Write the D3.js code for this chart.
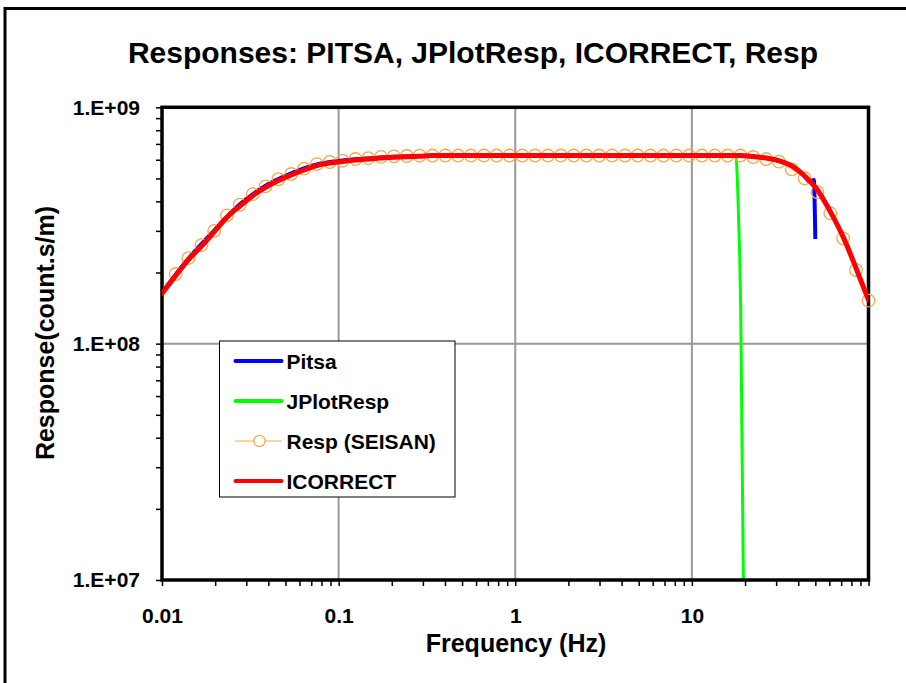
<!DOCTYPE html>
<html>
<head>
<meta charset="utf-8">
<script src="https://cdn.jsdelivr.net/npm/d3@7"></script>
<style>
  body { margin: 0; background: #fff; }
  svg { display: block; font-family: "Liberation Sans", Arial, sans-serif; font-weight: bold; }
</style>
</head>
<body>
<div id="chart"></div>
<script>
// frequencies (Hz) of the Resp (SEISAN) samples, first entry = left edge of ICORRECT
const freqs = [0.01, 0.01196, 0.01413, 0.01671, 0.01975, 0.02335, 0.0276, 0.03263, 0.03857, 0.0456,
  0.0539, 0.06372, 0.07533, 0.08905, 0.1053, 0.1245, 0.1471, 0.1739, 0.2056, 0.243,
  0.2873, 0.3396, 0.4015, 0.4746, 0.561, 0.6632, 0.784, 0.9268, 1.096, 1.295,
  1.531, 1.81, 2.14, 2.529, 2.99, 3.535, 4.179, 4.94, 5.84, 6.903,
  8.161, 9.647, 11.4, 13.48, 15.94, 18.84, 22.27, 26.33, 31.12, 36.79,
  43.49, 51.41, 60.78, 71.85, 84.94, 100];

const seisan = [null, 1.97e8, 2.30e8, 2.61e8, 3.00e8, 3.49e8, 3.87e8, 4.29e8, 4.63e8, 4.96e8,
  5.22e8, 5.50e8, 5.75e8, 5.87e8, 5.94e8, 6.04e8, 6.09e8, 6.17e8, 6.20e8, 6.22e8,
  6.24e8, 6.25e8, 6.25e8, 6.25e8, 6.25e8, 6.25e8, 6.25e8, 6.25e8, 6.25e8, 6.25e8,
  6.25e8, 6.25e8, 6.25e8, 6.25e8, 6.25e8, 6.25e8, 6.25e8, 6.25e8, 6.25e8, 6.25e8,
  6.25e8, 6.25e8, 6.25e8, 6.25e8, 6.25e8, 6.25e8, 6.16e8, 6.04e8, 5.89e8, 5.47e8,
  5.01e8, 4.37e8, 3.56e8, 2.79e8, 2.05e8, 1.52e8];

const icorrect = [1.63e8, 1.94e8, 2.27e8, 2.58e8, 2.97e8, 3.43e8, 3.82e8, 4.23e8, 4.58e8, 4.90e8,
  5.17e8, 5.43e8, 5.67e8, 5.81e8, 5.90e8, 5.98e8, 6.04e8, 6.10e8, 6.14e8, 6.18e8,
  6.21e8, 6.25e8, 6.25e8, 6.25e8, 6.25e8, 6.25e8, 6.25e8, 6.25e8, 6.25e8, 6.25e8,
  6.25e8, 6.25e8, 6.25e8, 6.25e8, 6.25e8, 6.25e8, 6.25e8, 6.25e8, 6.25e8, 6.25e8,
  6.25e8, 6.25e8, 6.25e8, 6.25e8, 6.25e8, 6.25e8, 6.19e8, 6.10e8, 5.94e8, 5.65e8,
  5.12e8, 4.47e8, 3.62e8, 2.83e8, 2.09e8, 1.53e8];

const pitsaFreq = [0.01, 0.01413, 0.01975, 0.0276, 0.03857, 0.0539, 0.07533, 0.1053, 0.1471, 0.2056,
  0.2873, 0.4746, 1.096, 4.94, 15.94, 22.27, 26.33, 31.12, 36.79, 43.49, 46.5, 49.0, 50.0];
const pitsa = [1.64e8, 2.29e8, 3.01e8, 3.89e8, 4.66e8, 5.26e8, 5.73e8, 5.95e8, 6.08e8, 6.17e8,
  6.22e8, 6.25e8, 6.25e8, 6.25e8, 6.25e8, 6.19e8, 6.10e8, 5.94e8, 5.65e8, 5.12e8, 4.85e8, 4.92e8, 2.77e8];

const jplotFreq = [0.01, 0.01413, 0.01975, 0.0276, 0.03857, 0.0539, 0.07533, 0.1053, 0.1471, 0.2056,
  0.2873, 0.4746, 1.096, 4.94, 15.94, 17.3, 17.8, 18.18, 18.42, 18.66, 18.9, 19.57];
const jplot = [1.63e8, 2.27e8, 2.97e8, 3.82e8, 4.58e8, 5.17e8, 5.67e8, 5.90e8, 6.04e8, 6.14e8,
  6.21e8, 6.25e8, 6.25e8, 6.25e8, 6.25e8, 6.22e8, 6.08e8, 4.47e8, 3.23e8, 2.33e8, 1.43e8, 1.0e7];

const xLabels = {0.01: '0.01', 0.1: '0.1', 1: '1', 10: '10'};
const yLabels = {1e7: '1.E+07', 1e8: '1.E+08', 1e9: '1.E+09'};

const width = 906;
const height = 683;
const plot = {left: 162, right: 868.5, top: 107.3, bottom: 580};

const svg = d3.select('#chart').append('svg')
  .attr('width', width)
  .attr('height', height);

// outer chart frame (runs off the right and bottom of the picture)
svg.append('rect')
  .attr('x', 5).attr('y', 8.5)
  .attr('width', 1000).attr('height', 1000)
  .attr('fill', 'none')
  .attr('stroke', '#000')
  .attr('stroke-width', 3);

const x = d3.scaleLog().domain([0.01, 100]).range([plot.left, plot.right]);
const y = d3.scaleLog().domain([1e7, 1e9]).range([plot.bottom, plot.top]);

svg.append('defs').append('clipPath').attr('id', 'clip')
  .append('rect')
  .attr('x', plot.left).attr('y', plot.top)
  .attr('width', plot.right - plot.left).attr('height', plot.bottom - plot.top);

// gridlines
svg.append('g').selectAll('line')
  .data([0.1, 1, 10])
  .enter().append('line')
  .attr('x1', d => x(d)).attr('x2', d => x(d))
  .attr('y1', plot.top).attr('y2', plot.bottom)
  .attr('stroke', '#999').attr('stroke-width', 2);
svg.append('g').selectAll('line')
  .data([1e8])
  .enter().append('line')
  .attr('x1', plot.left).attr('x2', plot.right)
  .attr('y1', d => y(d)).attr('y2', d => y(d))
  .attr('stroke', '#999').attr('stroke-width', 2);

// axes
const xAxis = svg.append('g')
  .attr('transform', `translate(0,${plot.bottom})`)
  .call(d3.axisBottom(x).tickValues(x.ticks()).tickSize(6).tickPadding(22)
    .tickFormat(d => xLabels[d] || ''));
const yAxis = svg.append('g')
  .attr('transform', `translate(${plot.left},0)`)
  .call(d3.axisLeft(y).tickValues(y.ticks()).tickSize(6).tickPadding(16)
    .tickFormat(d => yLabels[d] || ''));
[xAxis, yAxis].forEach(a => {
  a.select('.domain').remove();
  a.selectAll('.tick line').attr('stroke', '#000').attr('stroke-width', 1.5);
  a.selectAll('.tick text')
    .attr('fill', '#000')
    .style('font-family', '"Liberation Sans", Arial, sans-serif')
    .style('font-weight', 'bold')
    .style('font-size', '21px');
});

const series = svg.append('g').attr('clip-path', 'url(#clip)');
const line = d3.line()
  .defined(d => d[1] != null)
  .x(d => x(d[0]))
  .y(d => y(d[1]))
  .curve(d3.curveMonotoneX);

series.append('path')
  .attr('d', line(pitsaFreq.map((f, i) => [f, pitsa[i]])))
  .attr('fill', 'none').attr('stroke', '#0000ff').attr('stroke-width', 4);

series.append('path')
  .attr('d', line(jplotFreq.map((f, i) => [f, jplot[i]])))
  .attr('fill', 'none').attr('stroke', '#00ff00').attr('stroke-width', 3);

const respPts = freqs.map((f, i) => [f, seisan[i]]).filter(d => d[1] != null);
series.append('path')
  .attr('d', line(respPts))
  .attr('fill', 'none').attr('stroke', '#f9a848').attr('stroke-width', 1);

const redLine = line(freqs.map((f, i) => [f, icorrect[i]]));

// plot frame
svg.append('rect')
  .attr('x', plot.left).attr('y', plot.top)
  .attr('width', plot.right - plot.left).attr('height', plot.bottom - plot.top)
  .attr('fill', 'none').attr('stroke', '#000').attr('stroke-width', 3.5);

// markers are not clipped, so the last one sits on the frame
svg.append('g').selectAll('circle')
  .data(respPts)
  .enter().append('circle')
  .attr('cx', d => x(d[0]))
  .attr('cy', d => y(d[1]))
  .attr('r', 6.3)
  .attr('fill', 'none')
  .attr('stroke', '#f9a848')
  .attr('stroke-width', 1.3);

svg.append('g').attr('clip-path', 'url(#clip)')
  .append('path')
  .attr('d', redLine)
  .attr('fill', 'none').attr('stroke', '#ff0000').attr('stroke-width', 5)
  .attr('stroke-linecap', 'round');

// titles
svg.append('text')
  .attr('x', 473).attr('y', 63)
  .attr('text-anchor', 'middle')
  .style('font-size', '30px')
  .text('Responses: PITSA, JPlotResp, ICORRECT, Resp');
svg.append('text')
  .attr('x', 516).attr('y', 652)
  .attr('text-anchor', 'middle')
  .style('font-size', '25px')
  .text('Frequency (Hz)');
svg.append('text')
  .attr('transform', 'translate(54,333) rotate(-90)')
  .attr('text-anchor', 'middle')
  .style('font-size', '25px')
  .text('Response(count.s/m)');

// legend
const legendItems = [
  {name: 'Pitsa', color: '#0000ff', width: 4},
  {name: 'JPlotResp', color: '#00ff00', width: 4},
  {name: 'Resp (SEISAN)', color: '#f9a848', width: 1, marker: true},
  {name: 'ICORRECT', color: '#ff0000', width: 4}
];
const legend = svg.append('g').attr('transform', 'translate(219.5,341)');
legend.append('rect')
  .attr('width', 235.5).attr('height', 156)
  .attr('fill', '#fff').attr('stroke', '#000').attr('stroke-width', 1);
const item = legend.selectAll('g.item')
  .data(legendItems)
  .enter().append('g')
  .attr('class', 'item')
  .attr('transform', (d, i) => `translate(0,${20 + i * 40})`);
item.append('line')
  .attr('x1', 16).attr('x2', 62)
  .attr('stroke', d => d.color)
  .attr('stroke-width', d => d.width)
  .attr('stroke-linecap', 'round');
item.filter(d => d.marker).append('circle')
  .attr('cx', 40).attr('r', 5.6)
  .attr('fill', '#fff').attr('stroke', d => d.color).attr('stroke-width', 1.3);
item.append('text')
  .attr('x', 67).attr('y', 7.5)
  .style('font-size', '21px')
  .text(d => d.name);
</script>
</body>
</html>
